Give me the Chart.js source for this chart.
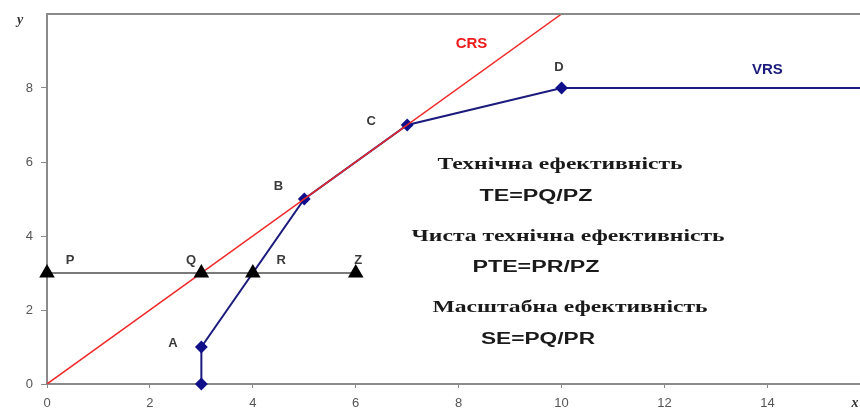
<!DOCTYPE html>
<html>
<head>
<meta charset="utf-8">
<script src="https://cdn.jsdelivr.net/npm/chart.js@4.4.1/dist/chart.umd.min.js"></script>
<style>
body { margin:0; background:#fff; }
</style>
</head>
<body>
<canvas id="grafico" width="860" height="412"></canvas>
<script>
// datos del grafico
var crsX = [0, 10];
var crsY = [0, 10];
var vrsX = [3, 3, 5, 7, 10, 16];
var vrsY = [0, 1, 5, 7, 8, 8];
var vrsPuntos = [true, true, true, true, true, false];
var pqrzX = [0, 3, 4, 6];
var pqrzY = [3, 3, 3, 3];
var ticksX = [0, 2, 4, 6, 8, 10, 12, 14];
var ticksY = [0, 2, 4, 6, 8];

function puntos(xs, ys){
	var res = [];
	for (var i = 0; i < xs.length; i++) {
		res.push({x: xs[i], y: ys[i]});
	}
	return res;
}

// textos sobre el grafico (coordenadas de datos)
var etiquetas = [
	{t:'P', x:0.45, y:3.35}, {t:'Q', x:2.8, y:3.35}, {t:'R', x:4.55, y:3.35}, {t:'Z', x:6.05, y:3.35},
	{t:'A', x:2.45, y:1.1}, {t:'B', x:4.5, y:5.35}, {t:'C', x:6.3, y:7.1}, {t:'D', x:9.95, y:8.55}
];

var textosPlugin = {
	id: 'textos',
	afterDraw: function(chart){
		var ctx = chart.ctx;
		var sx = chart.scales.x, sy = chart.scales.y;
		var area = chart.chartArea;
		ctx.save();
		// linea superior del marco
		ctx.strokeStyle = '#8a8a8a';
		ctx.lineWidth = 2;
		ctx.beginPath();
		ctx.moveTo(area.left, area.top);
		ctx.lineTo(860, area.top);
		ctx.stroke();

		ctx.textAlign = 'center';
		ctx.textBaseline = 'middle';
		ctx.font = 'bold 13px Arial, "Liberation Sans", sans-serif';
		ctx.fillStyle = '#3a3a3a';
		for (var i = 0; i < etiquetas.length; i++) {
			var o = etiquetas[i];
			ctx.fillText(o.t, sx.getPixelForValue(o.x), sy.getPixelForValue(o.y));
		}

		ctx.font = 'bold 15px Arial, "Liberation Sans", sans-serif';
		ctx.fillStyle = '#ee1c1c';
		ctx.fillText('CRS', sx.getPixelForValue(8.25), sy.getPixelForValue(9.2));
		ctx.fillStyle = '#1b1b7e';
		ctx.fillText('VRS', sx.getPixelForValue(14), sy.getPixelForValue(8.5));

		// formulas
		textoAjustado(ctx, 'Технічна ефективність', 560, 165, 245, 'bold 17px "Liberation Serif", "DejaVu Serif", serif');
		textoAjustado(ctx, 'TE=PQ/PZ', 536, 197, 113, 'bold 16px Arial, "Liberation Sans", sans-serif');
		textoAjustado(ctx, 'Чиста технічна ефективність', 568, 237, 313, 'bold 17px "Liberation Serif", "DejaVu Serif", serif');
		textoAjustado(ctx, 'PTE=PR/PZ', 536, 268, 127, 'bold 16px Arial, "Liberation Sans", sans-serif');
		textoAjustado(ctx, 'Масштабна ефективність', 570, 308, 275, 'bold 17px "Liberation Serif", "DejaVu Serif", serif');
		textoAjustado(ctx, 'SE=PQ/PR', 538, 340, 114, 'bold 16px Arial, "Liberation Sans", sans-serif');

		// nombres de ejes
		ctx.fillStyle = '#333';
		ctx.font = 'italic bold 14px "Liberation Serif", serif';
		ctx.fillText('y', 20, 20);
		ctx.fillText('x', 855, 403);
		ctx.restore();
	}
};

// dibuja texto centrado estirado al ancho indicado
function textoAjustado(ctx, texto, cx, cy, ancho, fuente){
	ctx.save();
	ctx.font = fuente;
	ctx.fillStyle = '#1a1a1a';
	ctx.textAlign = 'center';
	ctx.textBaseline = 'middle';
	var w = ctx.measureText(texto).width;
	ctx.translate(cx, cy);
	ctx.scale(ancho / w, 1);
	ctx.fillText(texto, 0, 0);
	ctx.restore();
}

var ctx = document.getElementById('grafico');
var grafico = new Chart(ctx, {
	type: 'scatter',
	data: {
		datasets: [{
			label: 'PZ',
			data: puntos(pqrzX, pqrzY),
			showLine: true,
			clip: false,
			borderColor: '#7a7a7a',
			borderWidth: 2,
			pointStyle: 'triangle',
			pointRadius: 7,
			pointBackgroundColor: '#000',
			pointBorderColor: '#000'
		}, {
			label: 'CRS',
			data: puntos(crsX, crsY),
			showLine: true,
			borderColor: '#f02828',
			borderWidth: 1.5,
			pointRadius: 0
		}, {
			label: 'VRS',
			data: puntos(vrsX, vrsY),
			showLine: true,
			clip: false,
			borderColor: '#1b1b7e',
			borderWidth: 2,
			pointStyle: 'rectRot',
			pointRadius: vrsPuntos.map(function(p){ return p ? 5 : 0; }),
			pointBackgroundColor: '#10108a',
			pointBorderColor: '#10108a'
		}]
	},
	options: {
		responsive: false,
		animation: false,
		layout: { autoPadding: false, padding: { top: 14, right: 0, left: 0, bottom: 0 } },
		plugins: { legend: { display: false }, tooltip: { enabled: false } },
		scales: {
			x: {
				type: 'linear',
				min: 0,
				max: 15.8,
				afterBuildTicks: function(scale){ scale.ticks = ticksX.map(function(v){ return {value: v}; }); },
				afterFit: function(scale){ scale.height = 28; scale.paddingRight = 0; },
				grid: { drawOnChartArea: false, tickLength: 4, color: '#8a8a8a' },
				border: { color: '#8a8a8a', width: 2 },
				ticks: { color: '#555', font: { size: 13, family: 'Arial' }, padding: 8, maxRotation: 0 }
			},
			y: {
				type: 'linear',
				min: 0,
				max: 10,
				afterBuildTicks: function(scale){ scale.ticks = ticksY.map(function(v){ return {value: v}; }); },
				afterFit: function(scale){ scale.width = 47; scale.paddingTop = 0; },
				grid: { drawOnChartArea: false, tickLength: 6, color: '#8a8a8a' },
				border: { color: '#8a8a8a', width: 2 },
				ticks: { color: '#555', font: { size: 13, family: 'Arial' }, padding: 8 }
			}
		}
	},
	plugins: [textosPlugin]
});
</script>
</body>
</html>
